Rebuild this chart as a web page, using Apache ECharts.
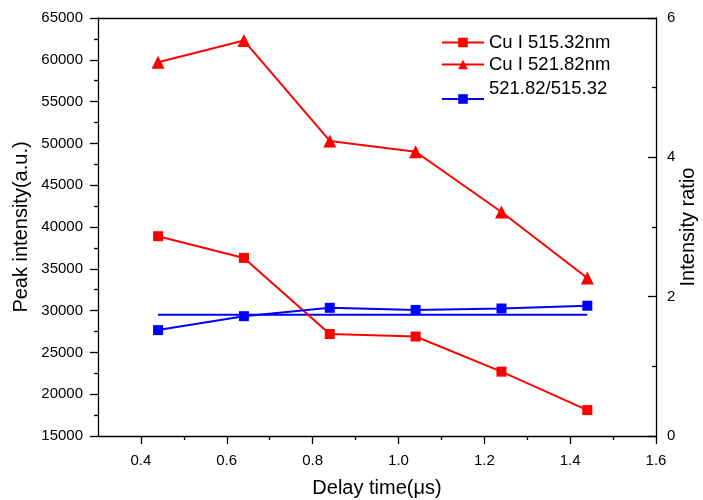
<!DOCTYPE html>
<html>
<head>
<meta charset="utf-8">
<script src="https://cdn.jsdelivr.net/npm/echarts@6/dist/echarts.min.js"></script>
<style>
  html, body { margin: 0; padding: 0; background: #fff; }
  #chart { width: 703px; height: 500px; }
</style>
</head>
<body>
<div id="chart"></div>
<script>
// Delay times (µs) at which the spectra were recorded
const delayTimes = [0.44, 0.64, 0.84, 1.04, 1.24, 1.44];
// Peak intensities (a.u.)
const cu515 = [38900, 36300, 27200, 26900, 22700, 18100];
const cu521 = [59700, 62300, 50300, 49000, 41800, 33900];
// Intensity ratio 521.82 / 515.32
const ratio = [1.52, 1.72, 1.84, 1.81, 1.83, 1.87];
// Average ratio drawn as a flat reference line
const ratioMeanX = [0.44, 1.44];
const ratioMeanY = [1.74, 1.74];

// Axis tick values
const xMajorTicks = [0.4, 0.6, 0.8, 1.0, 1.2, 1.4, 1.6];
const xMinorTicks = [0.5, 0.7, 0.9, 1.1, 1.3, 1.5];

const FONT = '"Liberation Sans", Arial, sans-serif';
const RED = '#ff0000';
const BLUE = '#0000ff';

const pairs = (xs, ys) => xs.map((x, i) => [x, ys[i]]);

const chart = echarts.init(document.getElementById('chart'), null, { renderer: 'canvas' });

const axisLine = { show: true, onZero: false, lineStyle: { color: '#000', width: 1.3 } };
const tickStyle = { color: '#000', width: 1.3 };
const tickFont = { fontSize: 15, color: '#000', fontFamily: FONT };
const nameFont = { fontSize: 20, color: '#000', fontFamily: FONT };

chart.setOption({
  animation: false,
  backgroundColor: '#fff',
  textStyle: { fontFamily: FONT },
  grid: {
    left: 98, right: 47, top: 18, bottom: 64,
    containLabel: false, outerBoundsMode: 'none'
  },
  legend: [
    {
      data: ['Cu I 515.32nm', 'Cu I 521.82nm'],
      orient: 'vertical',
      left: 436, top: 28,
      itemWidth: 42, itemHeight: 12, itemGap: 3,
      textStyle: { fontFamily: FONT, fontSize: 18.5, color: '#000' },
      selectedMode: false
    },
    {
      // label sits one line above its key
      data: ['521.82/515.32'],
      orient: 'vertical',
      left: 436, top: 74,
      itemWidth: 42, itemHeight: 12,
      formatter: name => name + '\n ',
      textStyle: { fontFamily: FONT, fontSize: 18.5, lineHeight: 20, color: '#000' },
      selectedMode: false
    }
  ],
  xAxis: [
    {
      type: 'value', min: 0.3, max: 1.6, position: 'bottom',
      axisLine: axisLine,
      axisTick: { show: true, length: 8, customValues: xMajorTicks, lineStyle: tickStyle },
      axisLabel: Object.assign({
        customValues: xMajorTicks, margin: 17,
        formatter: v => v.toFixed(1)
      }, tickFont),
      splitLine: { show: false },
      name: 'Delay time(\u03bcs)', nameLocation: 'middle', nameGap: 42,
      nameMoveOverlap: false,
      nameTextStyle: nameFont
    },
    {
      type: 'value', min: 0.3, max: 1.6, position: 'bottom',
      axisLine: { show: false },
      axisTick: { show: true, length: 4, customValues: xMinorTicks, lineStyle: tickStyle },
      axisLabel: { show: false },
      splitLine: { show: false }
    },
    {
      type: 'value', min: 0.3, max: 1.6, position: 'top',
      axisLine: axisLine,
      axisTick: { show: false },
      axisLabel: { show: false },
      splitLine: { show: false }
    }
  ],
  yAxis: [
    {
      type: 'value', min: 15000, max: 65000, interval: 5000, position: 'left',
      axisLine: axisLine,
      axisTick: { show: true, length: 8, lineStyle: tickStyle },
      minorTick: { show: true, splitNumber: 2, length: 4, lineStyle: tickStyle },
      axisLabel: Object.assign({ margin: 15, formatter: v => String(v) }, tickFont),
      splitLine: { show: false },
      name: 'Peak intensity(a.u.)', nameLocation: 'middle', nameGap: 67,
      nameMoveOverlap: false,
      nameTextStyle: nameFont
    },
    {
      type: 'value', min: 0, max: 6, interval: 2, position: 'right',
      axisLine: axisLine,
      axisTick: { show: true, inside: true, length: 8, lineStyle: tickStyle },
      minorTick: { show: true, splitNumber: 2, length: 4, lineStyle: tickStyle },
      axisLabel: Object.assign({ margin: 11, formatter: v => String(v) }, tickFont),
      splitLine: { show: false },
      name: 'Intensity ratio', nameLocation: 'middle', nameGap: 22, nameRotate: 90,
      nameMoveOverlap: false,
      nameTextStyle: nameFont
    }
  ],
  series: [
    {
      name: 'Cu I 515.32nm', type: 'line', xAxisIndex: 0, yAxisIndex: 0,
      data: pairs(delayTimes, cu515),
      symbol: 'rect', symbolSize: 10,
      itemStyle: { color: RED }, lineStyle: { color: RED, width: 2 }
    },
    {
      name: 'Cu I 521.82nm', type: 'line', xAxisIndex: 0, yAxisIndex: 0,
      data: pairs(delayTimes, cu521),
      symbol: 'triangle', symbolSize: 13,
      itemStyle: { color: RED }, lineStyle: { color: RED, width: 2 }
    },
    {
      name: '521.82/515.32', type: 'line', xAxisIndex: 0, yAxisIndex: 1,
      data: pairs(delayTimes, ratio),
      symbol: 'rect', symbolSize: 10,
      itemStyle: { color: BLUE }, lineStyle: { color: BLUE, width: 2 }
    },
    {
      name: 'mean ratio', type: 'line', xAxisIndex: 0, yAxisIndex: 1,
      data: pairs(ratioMeanX, ratioMeanY),
      symbol: 'none', z: 1,
      lineStyle: { color: BLUE, width: 2 }
    }
  ]
});
</script>
</body>
</html>
